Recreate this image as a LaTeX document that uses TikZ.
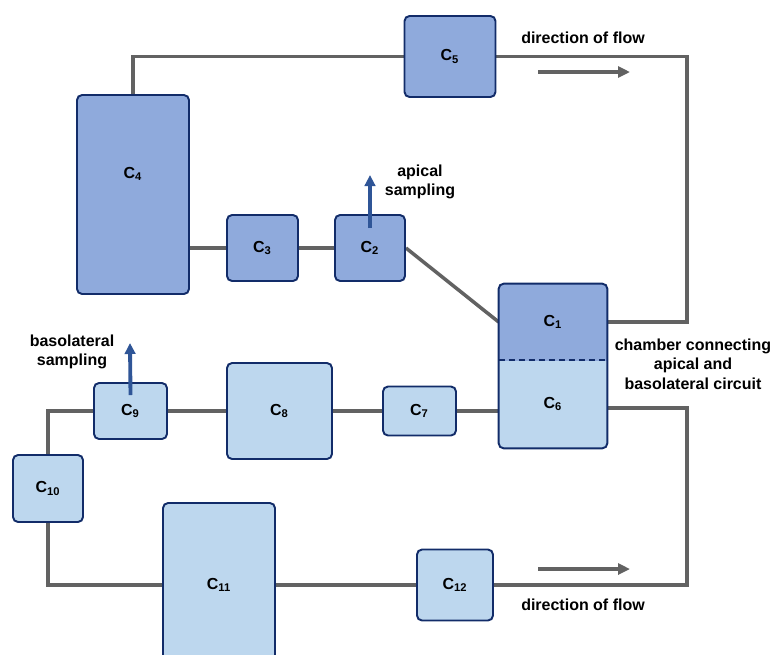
\documentclass[tikz,border=0pt]{standalone}
\usepackage{fontspec}
\setmainfont{Liberation Sans}
\usepackage{tikz}
\usetikzlibrary{arrows.meta,positioning,calc,backgrounds}
\definecolor{apiFill}{RGB}{143,170,220}
\definecolor{basoFill}{RGB}{189,215,238}
\definecolor{boxEdge}{RGB}{18,44,105}
\definecolor{pipeGray}{RGB}{98,98,98}
\definecolor{sampleBlue}{RGB}{47,85,151}
\newcommand{\chamb}[1]{C\textsubscript{#1}}

\begin{document}
\begin{tikzpicture}[x=0.02cm, y=-0.02cm,
  every node/.style={font=\fontsize{9.1}{11}\selectfont\bfseries, align=center},
  apibox/.style={draw=boxEdge, fill=apiFill, line width=1.1pt, rounded corners=0.1cm, inner sep=0pt},
  basobox/.style={draw=boxEdge, fill=basoFill, line width=1.1pt, rounded corners=0.1cm, inner sep=0pt},
  halfbox/.style={inner sep=0pt, minimum width=2.16cm},
  pipe/.style={draw=pipeGray, line width=2pt},
  flow/.style={pipeGray, line width=2.1pt, -{Triangle[length=0.24cm, width=0.22cm]}},
  sample/.style={sampleBlue, line width=2.2pt, -{Triangle[length=0.22cm, width=0.21cm]}}]
  \useasboundingbox (0,0) rectangle (774,654);
  % Apical circuit
  \node[apibox, minimum width=1.82cm, minimum height=1.62cm] (c5) at (450,56.5) {\chamb{5}};
  \node[apibox, minimum width=2.24cm, minimum height=3.98cm] (c4) at (133,194.5) {};
  \node (c4text) at (133,174) {\chamb{4}};
  \node[apibox, minimum width=1.42cm, minimum height=1.32cm] (c3) at (262.5,248) {\chamb{3}};
  \node[apibox, minimum width=1.40cm, minimum height=1.32cm] (c2) at (370,248) {\chamb{2}};
  % Connecting chamber
  \node[halfbox, minimum height=1.52cm] (c1) at (553,322) {\chamb{1}};
  \node[halfbox, minimum height=1.76cm] (c6) at (553,404) {\chamb{6}};
  % Basolateral circuit
  \node[basobox, minimum width=1.46cm, minimum height=0.98cm] (c7) at (419.5,411) {\chamb{7}};
  \node[basobox, minimum width=2.10cm, minimum height=1.92cm] (c8) at (279.5,411) {\chamb{8}};
  \node[basobox, minimum width=1.46cm, minimum height=1.12cm] (c9) at (130.5,411) {\chamb{9}};
  \node[basobox, minimum width=1.40cm, minimum height=1.34cm] (c10) at (48,488.5) {\chamb{10}};
  \node[basobox, minimum width=2.24cm, minimum height=3.28cm] (c11) at (219,585) {\chamb{11}};
  \node[basobox, minimum width=1.52cm, minimum height=1.42cm] (c12) at (455,585) {\chamb{12}};
  % Turning points and free ends
  \coordinate (topturn) at (687,150);
  \coordinate (botturn) at (687,500);
  \coordinate (flowA) at (538,72);
  \coordinate (flowB) at (630,72);
  \coordinate (flowC) at (538,569);
  \coordinate (flowD) at (630,569);
  \coordinate (apiTip) at (370,175);
  \coordinate (basoTip) at (130,343);
  % Tubing
  \begin{scope}[on background layer]
    \draw[pipe] (c4.north) |- (c5.west);
    \draw[pipe] (c5.east) -| (topturn) |- (c1.east);
    \draw[pipe] (c3.west -| c4.east) -- (c3.west);
    \draw[pipe] (c3.east) -- (c2.west);
    \draw[pipe] (c2.east) -- (c1.west);
    \draw[pipe] ($(c6.east)+(0,4)$) -| (botturn) |- (c12.east);
    \draw[pipe] (c12.west) -- (c11.east);
    \draw[pipe] (c11.west) -| (c10.south);
    \draw[pipe] (c10.north) |- (c9.west);
    \draw[pipe] (c9.east) -- (c8.west);
    \draw[pipe] (c8.east) -- (c7.west);
    \draw[pipe] (c7.east) -- (c7.east -| c6.west);
    \fill[basoFill, rounded corners=0.1cm] (c1.north west) rectangle (c6.south east);
    \begin{scope}
      \clip (c1.north west) rectangle (c1.south east);
      \fill[apiFill, rounded corners=0.1cm] (c1.north west) rectangle (c6.south east);
    \end{scope}
  \end{scope}
  \draw[boxEdge, line width=1.1pt, dash pattern=on 3.5pt off 2.2pt] (c1.south west) -- (c1.south east);
  \draw[boxEdge, line width=1.1pt, rounded corners=0.1cm] (c1.north west) rectangle (c6.south east);
  % Flow and sampling arrows
  \draw[flow] (flowA) -- (flowB);
  \draw[flow] (flowC) -- (flowD);
  \draw[sample] ($(c2.center)+(0,-20)$) -- (apiTip);
  \draw[sample] ($(c9.center)+(0,-16)$) -- (basoTip);
  % Labels
  \node (flowtop) at (583,38) {direction of flow};
  \node (flowbot) at (583,605) {direction of flow};
  \node (apilbl) at (420,182) {apical\\sampling};
  \node (basolbl) at (72,352) {basolateral\\sampling};
  \node (chamberlbl) at (693,364) {chamber connecting\\apical and\\basolateral circuit};
\end{tikzpicture}
\end{document}
